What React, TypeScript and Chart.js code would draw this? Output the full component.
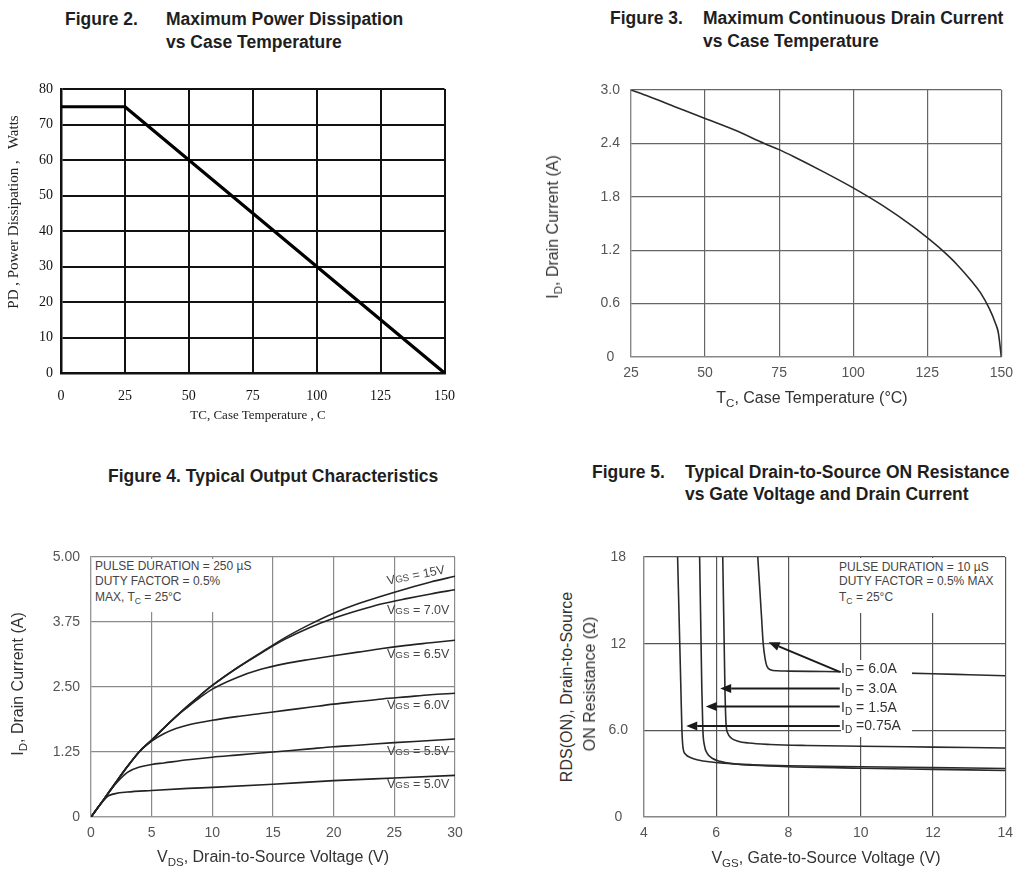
import React, { useEffect, useRef } from 'react';
import { Chart, registerables } from 'chart.js';
Chart.register(...registerables);

// ---------- Figure 2: Maximum Power Dissipation vs Case Temperature ----------
const fig2Temp = [0, 25, 150];
const fig2Power = [75, 75, 0];
const fig2XTicks = [0, 25, 50, 75, 100, 125, 150];
const fig2XLabels = ['0', '25', '50', '75', '100', '125', '150'];
const fig2YTicks = [0, 10, 20, 30, 40, 50, 60, 70, 80];
const fig2YLabels = ['0', '10', '20', '30', '40', '50', '60', '70', '80'];

// ---------- Figure 3: Maximum Continuous Drain Current vs Case Temperature ----------
const fig3Temp = [25, 30, 40, 50, 60, 70, 75, 80, 90, 100, 110, 120, 125, 130, 135, 140, 143, 146, 148, 149, 150];
const fig3Current = [3.0, 2.94, 2.81, 2.68, 2.55, 2.4, 2.33, 2.25, 2.08, 1.9, 1.7, 1.47, 1.34, 1.2, 1.04, 0.85, 0.72, 0.54, 0.38, 0.27, 0];
const fig3XTicks = [25, 50, 75, 100, 125, 150];
const fig3XLabels = ['25', '50', '75', '100', '125', '150'];
const fig3YTicks = [0, 0.6, 1.2, 1.8, 2.4, 3.0];
const fig3YLabels = ['0', '0.6', '1.2', '1.8', '2.4', '3.0'];

// ---------- Figure 4: Typical Output Characteristics ----------
const fig4Vds15 = [0, 1, 2, 3, 4, 5, 6, 7, 8, 9, 10, 12, 14, 16, 18, 20, 22, 24, 26, 28, 30];
const fig4Id15 = [0, 0.32, 0.65, 0.97, 1.26, 1.48, 1.71, 1.93, 2.14, 2.34, 2.53, 2.86, 3.16, 3.45, 3.7, 3.92, 4.1, 4.25, 4.39, 4.52, 4.63];
const fig4Vds70 = [0, 1, 2, 3, 4, 5, 6, 7, 8, 9, 10, 12, 14, 16, 18, 20, 22, 24, 26, 28, 30];
const fig4Id70 = [0, 0.32, 0.65, 0.97, 1.26, 1.48, 1.71, 1.93, 2.14, 2.34, 2.53, 2.86, 3.15, 3.42, 3.64, 3.82, 3.97, 4.1, 4.2, 4.29, 4.37];
const fig4Vds65 = [0, 1, 2, 3, 4, 5, 6, 7, 8, 9, 10, 12, 14, 16, 18, 20, 22, 24, 26, 28, 30];
const fig4Id65 = [0, 0.32, 0.65, 0.97, 1.26, 1.48, 1.71, 1.93, 2.12, 2.3, 2.46, 2.68, 2.84, 2.95, 3.03, 3.1, 3.17, 3.24, 3.3, 3.35, 3.4];
const fig4Vds60 = [0, 1, 2, 3, 4, 5, 6, 7, 8, 10, 12, 14, 16, 18, 20, 22, 24, 26, 28, 30];
const fig4Id60 = [0, 0.32, 0.65, 0.97, 1.26, 1.46, 1.6, 1.7, 1.77, 1.86, 1.93, 1.99, 2.05, 2.11, 2.17, 2.22, 2.27, 2.31, 2.35, 2.38];
const fig4Vds55 = [0, 1, 2, 3, 4, 5, 6, 8, 10, 12, 15, 18, 20, 22, 25, 28, 30];
const fig4Id55 = [0, 0.32, 0.63, 0.86, 0.96, 1.01, 1.04, 1.1, 1.15, 1.19, 1.25, 1.31, 1.35, 1.38, 1.43, 1.47, 1.5];
const fig4Vds50 = [0, 0.7, 1.4, 2, 3, 5, 8, 10, 15, 20, 25, 30];
const fig4Id50 = [0, 0.22, 0.4, 0.45, 0.48, 0.51, 0.55, 0.57, 0.63, 0.7, 0.75, 0.8];
const fig4XTicks = [0, 5, 10, 15, 20, 25, 30];
const fig4XLabels = ['0', '5', '10', '15', '20', '25', '30'];
const fig4YTicks = [0, 1.25, 2.5, 3.75, 5];
const fig4YLabels = ['0', '1.25', '2.50', '3.75', '5.00'];

// ---------- Figure 5: Typical Drain-to-Source ON Resistance ----------
const fig5Vgs075 = [4.93, 4.96, 4.99, 5.02, 5.05, 5.08, 5.15, 5.3, 5.5, 5.8, 6.2, 7, 8, 10, 12, 14];
const fig5R075 = [18, 15, 12, 9, 6, 4.8, 4.35, 4.1, 3.95, 3.82, 3.72, 3.62, 3.55, 3.48, 3.42, 3.36];
const fig5Vgs15 = [5.54, 5.56, 5.58, 5.6, 5.63, 5.67, 5.75, 5.9, 6.1, 6.5, 7, 8, 10, 12, 14];
const fig5R15 = [18, 15, 12, 9, 6, 5, 4.4, 4.05, 3.85, 3.68, 3.58, 3.48, 3.38, 3.3, 3.22];
const fig5Vgs30 = [6.18, 6.2, 6.22, 6.24, 6.27, 6.32, 6.42, 6.6, 6.9, 7.5, 8.5, 10, 12, 14];
const fig5R30 = [18, 15, 12, 9, 6.5, 5.8, 5.45, 5.25, 5.12, 5.02, 4.95, 4.9, 4.84, 4.78];
const fig5Vgs60 = [7.15, 7.2, 7.25, 7.3, 7.35, 7.4, 7.5, 7.7, 8, 9, 10, 11, 12, 13, 14];
const fig5R60 = [18, 16, 14, 12, 11, 10.45, 10.2, 10.12, 10.1, 10.07, 10.03, 9.98, 9.92, 9.85, 9.78];
const fig5ArrowFromX = [9.42, 9.42, 9.42, 9.42];
const fig5ArrowFromY = [10.05, 8.9, 7.65, 6.3];
const fig5ArrowToX = [7.45, 6.11, 5.71, 5.17];
const fig5ArrowToY = [12.1, 8.9, 7.65, 6.3];
const fig5XTicks = [4, 6, 8, 10, 12, 14];
const fig5XLabels = ['4', '6', '8', '10', '12', '14'];
const fig5YTicks = [0, 6, 12, 18];
const fig5YLabels = ['0', '6.0', '12', '18'];

const SANS = '"Liberation Sans", Arial, Helvetica, sans-serif';
const SERIF = '"Liberation Serif", "Times New Roman", serif';

type Axis = {
  min: number; max: number; ticks: number[]; labels: string[];
  size: number; pad: number; crossAlign?: string;
  font: any; color: string; grid: string; gridW: number; border: string; borderW: number;
};

function axisOpts(a: Axis, horizontal: boolean) {
  return {
    type: 'linear',
    min: a.min,
    max: a.max,
    afterBuildTicks: (s: any) => { s.ticks = a.ticks.map((v) => ({ value: v })); },
    afterFit: (s: any) => { if (horizontal) s.height = a.size; else s.width = a.size; },
    ticks: {
      padding: a.pad,
      font: a.font,
      color: a.color,
      autoSkip: false,
      maxRotation: 0,
      minRotation: 0,
      crossAlign: a.crossAlign || 'near',
      callback: (_v: any, i: number) => a.labels[i],
    },
    grid: { color: a.grid, lineWidth: a.gridW, drawTicks: false },
    border: { color: a.border, width: a.borderW },
  };
}

function lineDS(xs: number[], ys: number[], color: string, width: number, smooth: boolean) {
  return {
    data: xs.map((x, i) => ({ x, y: ys[i] })),
    showLine: true,
    borderColor: color,
    backgroundColor: color,
    borderWidth: width,
    pointRadius: 0,
    fill: false,
    tension: 0,
    cubicInterpolationMode: smooth ? 'monotone' : 'default',
    borderJoinStyle: 'round',
    borderCapStyle: 'round',
  };
}

function makeConfig(datasets: any[], x: Axis, y: Axis, padTop: number, padRight: number, plugins: any[] = []) {
  return {
    type: 'scatter',
    data: { datasets },
    options: {
      responsive: false,
      maintainAspectRatio: false,
      animation: false,
      events: [],
      layout: { padding: { top: padTop, right: padRight, left: 0, bottom: 0 } },
      plugins: { legend: { display: false }, tooltip: { enabled: false }, title: { display: false } },
      scales: { x: axisOpts(x, true), y: axisOpts(y, false) },
    },
    plugins,
  };
}

const arrowPlugin = {
  id: 'fig5arrows',
  afterDatasetsDraw(chart: any) {
    const { ctx } = chart;
    const xs = chart.scales.x;
    const ys = chart.scales.y;
    ctx.save();
    ctx.strokeStyle = '#1a1a1a';
    ctx.fillStyle = '#1a1a1a';
    ctx.lineWidth = 2;
    fig5ArrowFromX.forEach((fx, i) => {
      const x0 = xs.getPixelForValue(fx);
      const y0 = ys.getPixelForValue(fig5ArrowFromY[i]);
      const x1 = xs.getPixelForValue(fig5ArrowToX[i]);
      const y1 = ys.getPixelForValue(fig5ArrowToY[i]);
      const ang = Math.atan2(y1 - y0, x1 - x0);
      const len = 11;
      const w = 4.5;
      const bx = x1 - len * Math.cos(ang);
      const by = y1 - len * Math.sin(ang);
      ctx.beginPath();
      ctx.moveTo(x0, y0);
      ctx.lineTo(bx, by);
      ctx.stroke();
      ctx.beginPath();
      ctx.moveTo(x1, y1);
      ctx.lineTo(bx + w * Math.sin(ang), by - w * Math.cos(ang));
      ctx.lineTo(bx - w * Math.sin(ang), by + w * Math.cos(ang));
      ctx.closePath();
      ctx.fill();
    });
    ctx.restore();
  },
};

function ChartCanvas({ left, top, width, height, config }: any) {
  const ref = useRef<HTMLCanvasElement>(null);
  useEffect(() => {
    const chart = new Chart(ref.current as HTMLCanvasElement, config);
    return () => chart.destroy();
  }, []);
  return (
    <canvas
      ref={ref}
      width={width}
      height={height}
      style={{ position: 'absolute', left, top, width, height }}
    />
  );
}

const Sub = ({ children }: any) => (
  <span style={{ fontSize: '0.72em', position: 'relative', top: '0.32em' }}>{children}</span>
);

function T({ x, y, size = 14, family = SANS, weight = 400, color = '#222', center = false, rotate = 0, children, style = {} }: any) {
  const tf = center
    ? `translate(-50%, -50%) rotate(${rotate}deg)`
    : `translateY(-50%) rotate(${rotate}deg)`;
  return (
    <div
      style={{
        position: 'absolute',
        left: x,
        top: y,
        fontFamily: family,
        fontSize: size,
        fontWeight: weight,
        color,
        lineHeight: 1,
        whiteSpace: 'nowrap',
        transform: tf,
        transformOrigin: center ? 'center center' : 'left center',
        ...style,
      }}
    >
      {children}
    </div>
  );
}

export default function App() {
  const serifTick = { family: SERIF, size: 14 };
  const sansTick = { family: SANS, size: 14 };

  const cfg2 = makeConfig(
    [lineDS(fig2Temp, fig2Power, '#000', 3.2, false)],
    { min: 0, max: 150, ticks: fig2XTicks, labels: fig2XLabels, size: 57, pad: 15, font: serifTick, color: '#111', grid: '#111', gridW: 2, border: '#111', borderW: 2.5 },
    { min: 0, max: 80, ticks: fig2YTicks, labels: fig2YLabels, size: 61, pad: 8, font: serifTick, color: '#111', grid: '#111', gridW: 2, border: '#111', borderW: 2.5 },
    29, 25,
  );

  const cfg3 = makeConfig(
    [lineDS(fig3Temp, fig3Current, '#2a2a2a', 1.6, true)],
    { min: 25, max: 150, ticks: fig3XTicks, labels: fig3XLabels, size: 33, pad: 8, font: sansTick, color: '#555', grid: '#666', gridW: 1.2, border: '#888', borderW: 1.2 },
    { min: 0, max: 3, ticks: fig3YTicks, labels: fig3YLabels, size: 71, pad: 11, crossAlign: 'center', font: sansTick, color: '#555', grid: '#666', gridW: 1.2, border: '#888', borderW: 1.2 },
    30, 17,
  );

  const c4 = '#222';
  const cfg4 = makeConfig(
    [
      lineDS(fig4Vds15, fig4Id15, c4, 1.6, true),
      lineDS(fig4Vds70, fig4Id70, c4, 1.6, true),
      lineDS(fig4Vds65, fig4Id65, c4, 1.6, true),
      lineDS(fig4Vds60, fig4Id60, c4, 1.6, true),
      lineDS(fig4Vds55, fig4Id55, c4, 1.6, true),
      lineDS(fig4Vds50, fig4Id50, c4, 1.6, true),
    ],
    { min: 0, max: 30, ticks: fig4XTicks, labels: fig4XLabels, size: 33, pad: 8, font: sansTick, color: '#555', grid: '#8a8a8a', gridW: 1.2, border: '#999', borderW: 1.2 },
    { min: 0, max: 5, ticks: fig4YTicks, labels: fig4YLabels, size: 61, pad: 11, font: sansTick, color: '#555', grid: '#8a8a8a', gridW: 1.2, border: '#999', borderW: 1.2 },
    27, 25,
  );

  const c5 = '#2a2a2a';
  const cfg5 = makeConfig(
    [
      lineDS(fig5Vgs075, fig5R075, c5, 1.6, true),
      lineDS(fig5Vgs15, fig5R15, c5, 1.6, true),
      lineDS(fig5Vgs30, fig5R30, c5, 1.6, true),
      lineDS(fig5Vgs60, fig5R60, c5, 1.6, true),
    ],
    { min: 4, max: 14, ticks: fig5XTicks, labels: fig5XLabels, size: 33, pad: 8, font: sansTick, color: '#555', grid: '#555', gridW: 1.2, border: '#888', borderW: 1.2 },
    { min: 0, max: 18, ticks: fig5YTicks, labels: fig5YLabels, size: 54, pad: 16, crossAlign: 'center', font: sansTick, color: '#555', grid: '#555', gridW: 1.2, border: '#888', borderW: 1.2 },
    27, 14,
    [arrowPlugin],
  );

  const titleSize = 17.5;
  const tc = '#1e1e1e';
  const ac = '#333';
  const note = '#444';

  return (
    <div style={{ position: 'absolute', left: 0, top: 0, width: 1021, height: 876, background: '#fff', overflow: 'hidden' }}>
      <ChartCanvas left={0} top={60} width={470} height={370} config={cfg2} />
      <ChartCanvas left={560} top={60} width={461} height={330} config={cfg3} />
      <ChartCanvas left={30} top={530} width={450} height={320} config={cfg4} />
      <ChartCanvas left={590} top={530} width={431} height={320} config={cfg5} />

      {/* Figure 2 titles */}
      <T x={65} y={20} size={titleSize} weight={700} color={tc}>Figure 2.</T>
      <T x={166} y={20} size={titleSize} weight={700} color={tc}>Maximum Power Dissipation</T>
      <T x={166} y={43} size={titleSize} weight={700} color={tc}>vs Case Temperature</T>
      <T x={13} y={212} size={15} family={SERIF} color="#222" center rotate={-90}>PD , Power Dissipation ,&nbsp;&nbsp;&nbsp;Watts</T>
      <T x={258} y={414} size={13} family={SERIF} color="#222" center>TC, Case Temperature , C</T>

      {/* Figure 3 titles */}
      <T x={610} y={19} size={titleSize} weight={700} color={tc}>Figure 3.</T>
      <T x={703} y={19} size={titleSize} weight={700} color={tc}>Maximum Continuous Drain Current</T>
      <T x={703} y={42} size={titleSize} weight={700} color={tc}>vs Case Temperature</T>
      <T x={553} y={227} size={16} color={ac} center rotate={-90}>I<Sub>D</Sub>, Drain Current (A)</T>
      <T x={812} y={398} size={16} color={ac} center>T<Sub>C</Sub>, Case Temperature (°C)</T>

      {/* Figure 4 titles */}
      <T x={108} y={477} size={titleSize} weight={700} color={tc}>Figure 4. Typical Output Characteristics</T>
      <T x={18} y={684} size={16} color={ac} center rotate={-90}>I<Sub>D</Sub>, Drain Current (A)</T>
      <T x={273} y={857} size={16} color={ac} center>V<Sub>DS</Sub>, Drain-to-Source Voltage (V)</T>
      <div style={{ position: 'absolute', left: 93, top: 559, width: 167, height: 53, background: '#fff' }} />
      <T x={95} y={566} size={12} color={note}>PULSE DURATION = 250 µS</T>
      <T x={95} y={581} size={12} color={note}>DUTY FACTOR = 0.5%</T>
      <T x={95} y={597} size={12} color={note}>MAX, T<Sub>C</Sub> = 25°C</T>
      <T x={387} y={581} size={12.5} color={note} rotate={-11}>V<span style={{ fontSize: '0.78em' }}>GS</span> = 15V</T>
      <T x={387} y={610} size={12.5} color={note}>V<span style={{ fontSize: '0.78em' }}>GS</span> = 7.0V</T>
      <T x={387} y={654} size={12.5} color={note}>V<span style={{ fontSize: '0.78em' }}>GS</span> = 6.5V</T>
      <T x={387} y={705} size={12.5} color={note}>V<span style={{ fontSize: '0.78em' }}>GS</span> = 6.0V</T>
      <T x={387} y={751} size={12.5} color={note}>V<span style={{ fontSize: '0.78em' }}>GS</span> = 5.5V</T>
      <T x={387} y={784} size={12.5} color={note}>V<span style={{ fontSize: '0.78em' }}>GS</span> = 5.0V</T>

      {/* Figure 5 titles */}
      <T x={592} y={473} size={titleSize} weight={700} color={tc}>Figure 5.</T>
      <T x={685} y={473} size={titleSize} weight={700} color={tc}>Typical Drain-to-Source ON Resistance</T>
      <T x={685} y={495} size={titleSize} weight={700} color={tc}>vs Gate Voltage and Drain Current</T>
      <T x={567} y={687} size={16} color={ac} center rotate={-90}>RDS(ON), Drain-to-Source</T>
      <T x={590} y={684} size={16} color={ac} center rotate={-90}>ON Resistance (Ω)</T>
      <T x={826} y={858} size={16} color={ac} center>V<Sub>GS</Sub>, Gate-to-Source Voltage (V)</T>
      <div style={{ position: 'absolute', left: 838, top: 558, width: 162, height: 55, background: '#fff' }} />
      <T x={839} y={567} size={12} color={note}>PULSE DURATION = 10 µS</T>
      <T x={839} y={581} size={12} color={note}>DUTY FACTOR = 0.5% MAX</T>
      <T x={839} y={597} size={12} color={note}>T<Sub>C</Sub> = 25°C</T>
      <div style={{ position: 'absolute', left: 841, top: 660, width: 71, height: 77, background: '#fff' }} />
      <T x={841} y={668} size={14} color={ac}>I<Sub>D</Sub> = 6.0A</T>
      <T x={841} y={688} size={14} color={ac}>I<Sub>D</Sub> = 3.0A</T>
      <T x={841} y={707} size={14} color={ac}>I<Sub>D</Sub> = 1.5A</T>
      <T x={841} y={725} size={14} color={ac}>I<Sub>D</Sub> =0.75A</T>
    </div>
  );
}
